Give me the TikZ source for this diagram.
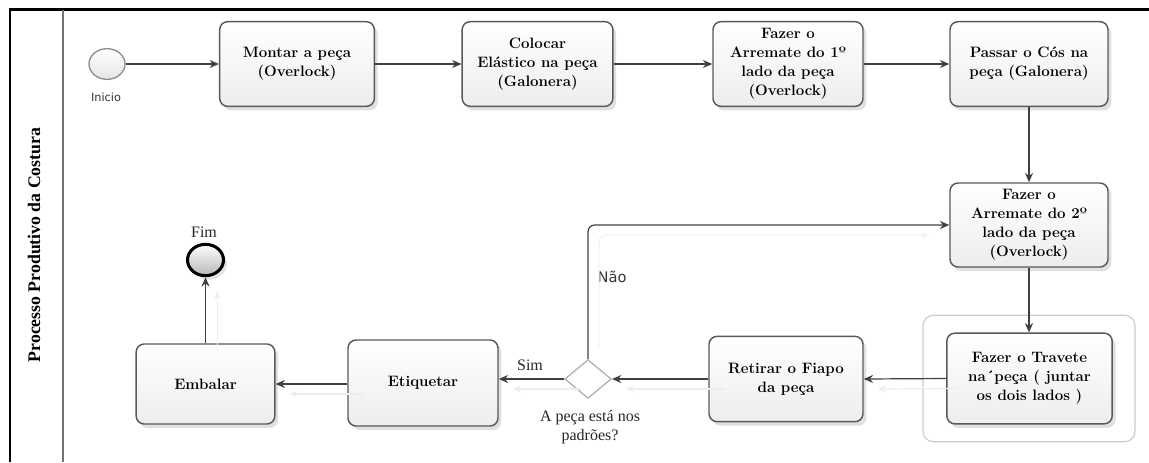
\documentclass[tikz,border=0pt]{standalone}
\usepackage{fontspec}
\newfontfamily\serifl{Liberation Serif}
\newfontfamily\sansl{DejaVu Sans}
\usetikzlibrary{shapes.geometric,shadows,arrows.meta,calc}
\tikzset{
  task/.style={draw=black!65, line width=1.1pt, rounded corners=6pt,
    top color=white, bottom color=black!7,
    drop shadow={shadow xshift=2.5pt, shadow yshift=-3pt, opacity=0.2, fill=black!60},
    align=center, font=\bfseries\fontsize{11.3}{14.2}\selectfont, inner sep=0pt},
  flow/.style={draw=black!75, line width=0.9pt, -{Stealth[length=7pt,width=6pt]}},
  ghostflow/.style={draw=black!7, line width=0.9pt, -{Stealth[length=6pt,width=5pt]}},
  serlabel/.style={font=\serifl\fontsize{12}{14.2}\selectfont, text=black!85},
  sanlabel/.style={font=\sansl\fontsize{11}{13}\selectfont, text=black!80},
}
\begin{document}
\begin{tikzpicture}[x=0.75pt,y=-0.75pt]
\useasboundingbox (0,0) rectangle (1149,462);
% frame and lane
\draw[line width=2.2pt] (10,462) -- (10,9.5) -- (1149,9.5);
\draw[black!55, line width=1.1pt] (63,10) -- (63,462);
\node[rotate=90, font=\serifl\bfseries\fontsize{13.3}{16}\selectfont] (lane) at (34,245) {Processo Produtivo da Costura};

% group frame around Travete
\node[draw=black!20, line width=0.9pt, rounded corners=8pt, minimum width=159pt, minimum height=95pt] (grp) at (1029,378.5) {};

% events
\node[ellipse, draw=black!45, line width=1pt, top color=white, bottom color=black!10, minimum width=27pt, minimum height=23pt, inner sep=0pt] (ini) at (107,64) {};
\node[sanlabel, font=\sansl\fontsize{8.5}{10}\selectfont] (inilbl) at (106,97) {Inicio};
\node[ellipse, draw=black, line width=2.3pt, top color=white, bottom color=black!28, minimum width=27pt, minimum height=23.5pt, inner sep=0pt,
  drop shadow={shadow xshift=2.5pt, shadow yshift=-3pt, opacity=0.18, fill=black!60}] (fim) at (205.5,260) {};
\node[serlabel] (fimlbl) at (204,232) {Fim};

% tasks
\node[task, minimum width=116pt, minimum height=63.5pt] (montar) at (297,64) {Montar a peça\\(Overlock)};
\node[task, minimum width=113pt, minimum height=63.5pt] (colocar) at (537.5,64) {Colocar\\Elástico na peça\\(Galonera)};
\node[task, minimum width=112.5pt, minimum height=63.5pt] (faz1) at (788,64) {Fazer o\\Arremate do 1º\\lado da peça\\(Overlock)};
\node[task, minimum width=118.5pt, minimum height=63.5pt] (passar) at (1029,64) {Passar o Cós na\\peça (Galonera)};
\node[task, minimum width=118.5pt, minimum height=63pt] (faz2) at (1029,225) {Fazer o\\Arremate do 2º\\lado da peça\\(Overlock)};
\node[task, minimum width=124pt, minimum height=68pt] (trav) at (1029.5,378.5) {Fazer o Travete\\na´peça ( juntar\\os dois lados )};
\node[task, minimum width=115.5pt, minimum height=64pt] (retirar) at (786,379) {Retirar o Fiapo\\da peça};
\node[diamond, draw=black!30, line width=1pt, fill=white, minimum width=35pt, minimum height=29pt, inner sep=0pt] (dia) at (588,379) {};
\node[task, minimum width=112.5pt, minimum height=64.5pt] (etiq) at (423,383) {Etiquetar};
\node[task, minimum width=104pt, minimum height=60pt] (emb) at (205.5,384) {Embalar};

% labels
\node[sanlabel, anchor=west] (nao) at (593,277) {Não};
\node[serlabel] (sim) at (530,365) {Sim};
\node[serlabel, align=center] (quest) at (590,427) {A peça está nos\\padrões?};

% ghost connectors (faint shadows)
\draw[ghostflow] ([shift={(12,10)}]emb.north) -- ([shift={(12,14)}]fim.south);
\draw[ghostflow] ([shift={(16,10)}]emb.east -| etiq.west) -- ([shift={(14,10)}]emb.east);
\draw[ghostflow] ([shift={(16,10)}]dia.west) -- ([shift={(14,10)}]dia.west -| etiq.east);
\draw[ghostflow] ([shift={(16,10)}]retirar.west) -- ([shift={(14,10)}]dia.east);
\draw[ghostflow] ([shift={(16,10)}]trav.west) -- ([shift={(14,10)}]retirar.east);
\draw[ghostflow, draw=black!5, rounded corners=5pt] ([shift={(11,-10)}]dia.north) -- ([shift={(11,10)}]dia.north |- faz2.west) -- ([shift={(-20,10)}]faz2.west);

% connectors
\draw[flow] (ini) -- (montar);
\draw[flow] (montar) -- (colocar);
\draw[flow] (colocar) -- (faz1);
\draw[flow] (faz1) -- (passar);
\draw[flow] (passar.south) -- (faz2.north);
\draw[flow] (faz2.south) -- (faz2.south |- trav.north);
\draw[flow] (trav.west) -- (retirar.east);
\draw[flow] (retirar.west) -- (dia.east);
\draw[flow] (dia.west) -- (dia.west -| etiq.east);
\draw[flow] (emb.east -| etiq.west) -- (emb.east);
\draw[flow] (emb.north) -- (fim.south);
\draw[flow, rounded corners=5pt] (dia.north) -- (dia.north |- faz2.west) -- (faz2.west);
\end{tikzpicture}
\end{document}
